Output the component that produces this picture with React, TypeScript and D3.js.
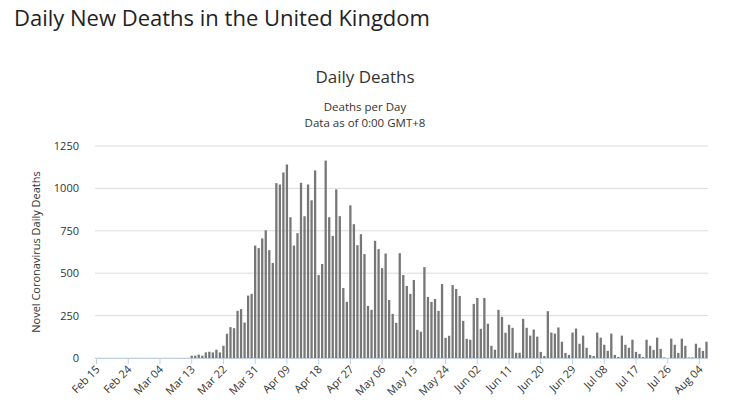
import * as d3 from 'd3';

const zeros = Array(27).fill(0);
const part1 = [14,14,20,14,33,37,33,49,33,72,143,182,176,278,288,209,368,378,663,648,705,753,636,560,1031,1023,1094,1141,830,663,736,1033,836,1023,930,1106,489,554,1164,830,720,994,836,413,331,900,789,665,730,613];
const part2 = [307,284,691,642,530,616,342,260,207,618,489,425,378,460,166,155,536,360,331,348,278,436,119,131,430,407,366,219,113,108,319,354,172,354,202,72,49,284,243,149,196,178,31,31,231,178];
const part3 = [132,168,126,36,12,276,150,144,180,96,30,18,150,174,84,132,60,18,12,150,120,78,42,144,18,6,132,78,60,108,36,24,6,108,72,48,120,54,3,0,114,78,30,114,72,3,3,84,60,42,96];
const deaths = [...zeros, ...part1, ...part2, ...part3];
const start = new Date(2020, 1, 15);
const dates = deaths.map((_, i) => d3.timeDay.offset(start, i));
const yTicks = [0, 250, 500, 750, 1000, 1250];

export default function App() {
  const W = 731, H = 420;
  const L = 95, R = 708, T = 146, B = 358;
  const x = d3.scaleBand<number>().domain(deaths.map((_, i) => i)).range([L, R]).paddingInner(0.35).paddingOuter(0.1);
  const y = d3.scaleLinear().domain([0, 1250]).range([B, T]);
  const fmt = d3.timeFormat('%b %d');
  const font = '"Open Sans", sans-serif';
  return (
    <svg width={W} height={H} style={{ position: 'absolute', left: 0, top: 0 }} fontFamily={font}>
      <rect width={W} height={H} fill="#fff" />
      <text x={14} y={26} fontSize={22} fill="#222">Daily New Deaths in the United Kingdom</text>
      <text x={365} y={83} fontSize={17} textAnchor="middle" fill="#333">Daily Deaths</text>
      <text x={365} y={111} fontSize={11.5} textAnchor="middle" fill="#333">Deaths per Day</text>
      <text x={365} y={127} fontSize={11.5} textAnchor="middle" fill="#333">Data as of 0:00 GMT+8</text>
      <text transform={`translate(40,${(T + B) / 2}) rotate(-90)`} fontSize={11} textAnchor="middle" fill="#333">Novel Coronavirus Daily Deaths</text>
      {yTicks.map(t => (
        <g key={t}>
          <line x1={L} x2={R} y1={y(t)} y2={y(t)} stroke="#dcdcdc" />
          <text x={L - 16} y={y(t) + 4} fontSize={11} textAnchor="end" fill="#333">{t}</text>
        </g>
      ))}
      <line x1={L} x2={R} y1={B + 0.5} y2={B + 0.5} stroke="#c0d0e0" />
      {deaths.map((d, i) => (
        <rect key={i} x={x(i)} y={y(d)} width={x.bandwidth()} height={B - y(d)} fill="#777" />
      ))}
      {dates.map((dt, i) => i % 9 === 0 && (
        <g key={i}>
          <line x1={x(i)! + x.bandwidth() / 2} x2={x(i)! + x.bandwidth() / 2} y1={B} y2={B + 6} stroke="#c0d0e0" />
          <text transform={`translate(${x(i)! + x.bandwidth() / 2 + 4},${B + 12}) rotate(-45)`} fontSize={11} textAnchor="end" fill="#333">{fmt(dt)}</text>
        </g>
      ))}
    </svg>
  );
}
